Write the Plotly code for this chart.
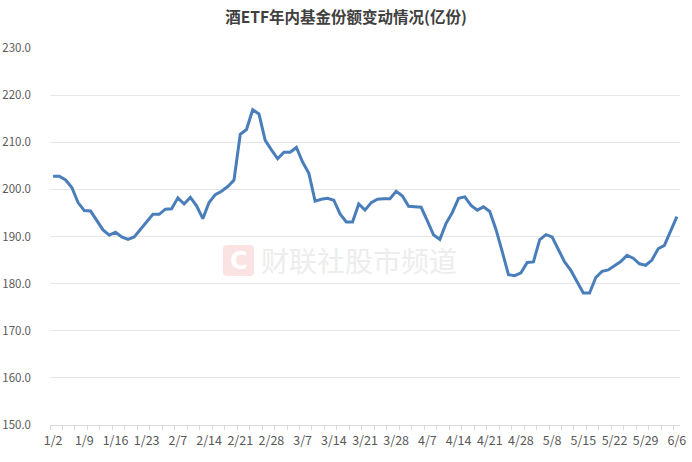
import plotly.graph_objects as go

# Trading dates (categories), 2025-01-02 .. 2025-06-06
dates = (
    ["1/2", "1/3", "1/6", "1/7", "1/8", "1/9", "1/10", "1/13", "1/14", "1/15",
     "1/16", "1/17", "1/20", "1/21", "1/22", "1/23", "1/24", "1/27",
     "2/5", "2/6", "2/7", "2/10", "2/11", "2/12", "2/13", "2/14", "2/17", "2/18",
     "2/19", "2/20", "2/21", "2/24", "2/25", "2/26", "2/27", "2/28",
     "3/3", "3/4", "3/5", "3/6", "3/7", "3/10", "3/11", "3/12", "3/13", "3/14",
     "3/17", "3/18", "3/19", "3/20", "3/21", "3/24", "3/25", "3/26", "3/27", "3/28",
     "3/31", "4/1", "4/2", "4/3", "4/7", "4/8", "4/9", "4/10", "4/11", "4/14",
     "4/15", "4/16", "4/17", "4/18", "4/21", "4/22", "4/23", "4/24", "4/25", "4/28",
     "4/29", "4/30", "5/6", "5/7", "5/8", "5/9", "5/12", "5/13", "5/14", "5/15",
     "5/16", "5/19", "5/20", "5/21", "5/22", "5/23", "5/26", "5/27", "5/28", "5/29",
     "5/30", "6/3", "6/4", "6/5", "6/6"]
)

# Fund shares (亿份)
shares = [
    202.8, 202.8, 202.0, 200.4, 197.2, 195.5, 195.4, 193.5, 191.4, 190.3,
    190.9, 189.9, 189.4, 189.9, 191.5, 193.2, 194.7, 194.7, 195.8, 195.9,
    198.2, 196.9, 198.3, 196.5, 193.8, 197.2, 198.9, 199.6, 200.6, 202.0,
    211.7, 212.7, 216.9, 216.0, 210.4, 208.4, 206.5, 207.9, 207.9, 208.9,
    205.8, 203.4, 197.5, 197.9, 198.1, 197.7, 194.8, 193.1, 193.1, 196.9,
    195.6, 197.2, 197.9, 198.0, 198.0, 199.6, 198.6, 196.4, 196.3, 196.2,
    193.3, 190.3, 189.4, 192.8, 195.1, 198.1, 198.4, 196.6, 195.6, 196.3,
    195.3, 191.5, 186.8, 181.9, 181.7, 182.3, 184.5, 184.6, 189.3, 190.4,
    189.9, 187.4, 184.6, 182.8, 180.4, 178.0, 178.0, 181.3, 182.6, 182.9,
    183.8, 184.7, 186.0, 185.4, 184.2, 183.9, 185.0, 187.4, 188.1, 191.1,
    194.2,
]

label_step = 5
tick_idx = list(range(0, len(dates), label_step))
tick_labels = [dates[i] for i in tick_idx]

title_text = "酒ETF年内基金份额变动情况(亿份)"
watermark = "财联社股市频道"

FONT = "Noto Sans CJK SC"
GRAY = "#595959"

fig = go.Figure()
fig.add_trace(go.Scatter(
    x=list(range(len(shares))), y=shares, mode="lines",
    line=dict(color="#4a7ebb", width=3), hoverinfo="skip",
))

W, H = 692, 462
L, R, T, B = 50, 12, 48, 37
pw, ph = W - L - R, H - T - B

def px(xp):  # pixel -> paper x
    return (xp - L) / pw

def py(yp):  # pixel -> paper y
    return (H - B - yp) / ph

# watermark logo: rounded square
x0, x1 = px(223), px(254)
y0, y1 = py(276), py(245)
r = 4 / pw
ry = 4 / ph
path = (f"M {x0+r},{y0} L {x1-r},{y0} Q {x1},{y0} {x1},{y0+ry} "
        f"L {x1},{y1-ry} Q {x1},{y1} {x1-r},{y1} L {x0+r},{y1} "
        f"Q {x0},{y1} {x0},{y1-ry} L {x0},{y0+ry} Q {x0},{y0} {x0+r},{y0} Z")

fig.update_layout(
    width=W, height=H,
    margin=dict(l=L, r=R, t=T, b=B, autoexpand=False),
    plot_bgcolor="white", paper_bgcolor="white",
    showlegend=False,
    font=dict(family=FONT, color=GRAY, size=12),
    title=dict(text=f"<b>{title_text}</b>", x=0.5, xanchor="center",
               xref="container", yref="container", automargin=False,
               y=1 - 18 / H, yanchor="middle",
               font=dict(family=FONT, size=15.5, color="#404040")),
    xaxis=dict(
        range=[-0.5, len(shares) - 0.5], automargin=False,
        tickmode="array", tickvals=tick_idx, ticktext=tick_labels,
        showgrid=False, zeroline=False,
        showline=True, linecolor="#D9D9D9", linewidth=1,
        ticks="", ticklabelstandoff=4,
        tickfont=dict(size=12.5, color=GRAY),
        minor=dict(ticks="outside", tick0=-0.5, dtick=2, ticklen=4,
                   tickcolor="#D9D9D9", showgrid=False),
    ),
    yaxis=dict(
        range=[150, 230], dtick=10, tick0=150, tickformat=".1f",
        automargin=False,
        showgrid=True, gridcolor="#E6E6E6", gridwidth=1,
        zeroline=False, showline=False, ticks="",
        ticklabelstandoff=18,
        tickfont=dict(size=11.5, color=GRAY),
    ),
    shapes=[dict(type="path", path=path, xref="paper", yref="paper",
                 fillcolor="#FCE3E3", line=dict(width=0), layer="below")],
    annotations=[
        dict(text="<b>C</b>", x=px(238.5), y=py(260.5), xref="paper", yref="paper",
             showarrow=False, font=dict(family="DejaVu Sans", size=24, color="white"),
             xanchor="center", yanchor="middle"),
        dict(text=watermark, x=px(359), y=py(260), xref="paper", yref="paper",
             showarrow=False, font=dict(family=FONT, size=28, color="#EDEDED"),
             xanchor="center", yanchor="middle"),
    ],
)

# remove the default 8px page margin so the figure fills the window exactly
fig.write_html("out.html", config={"displayModeBar": False},
               post_script="document.body.style.margin='0px';")
